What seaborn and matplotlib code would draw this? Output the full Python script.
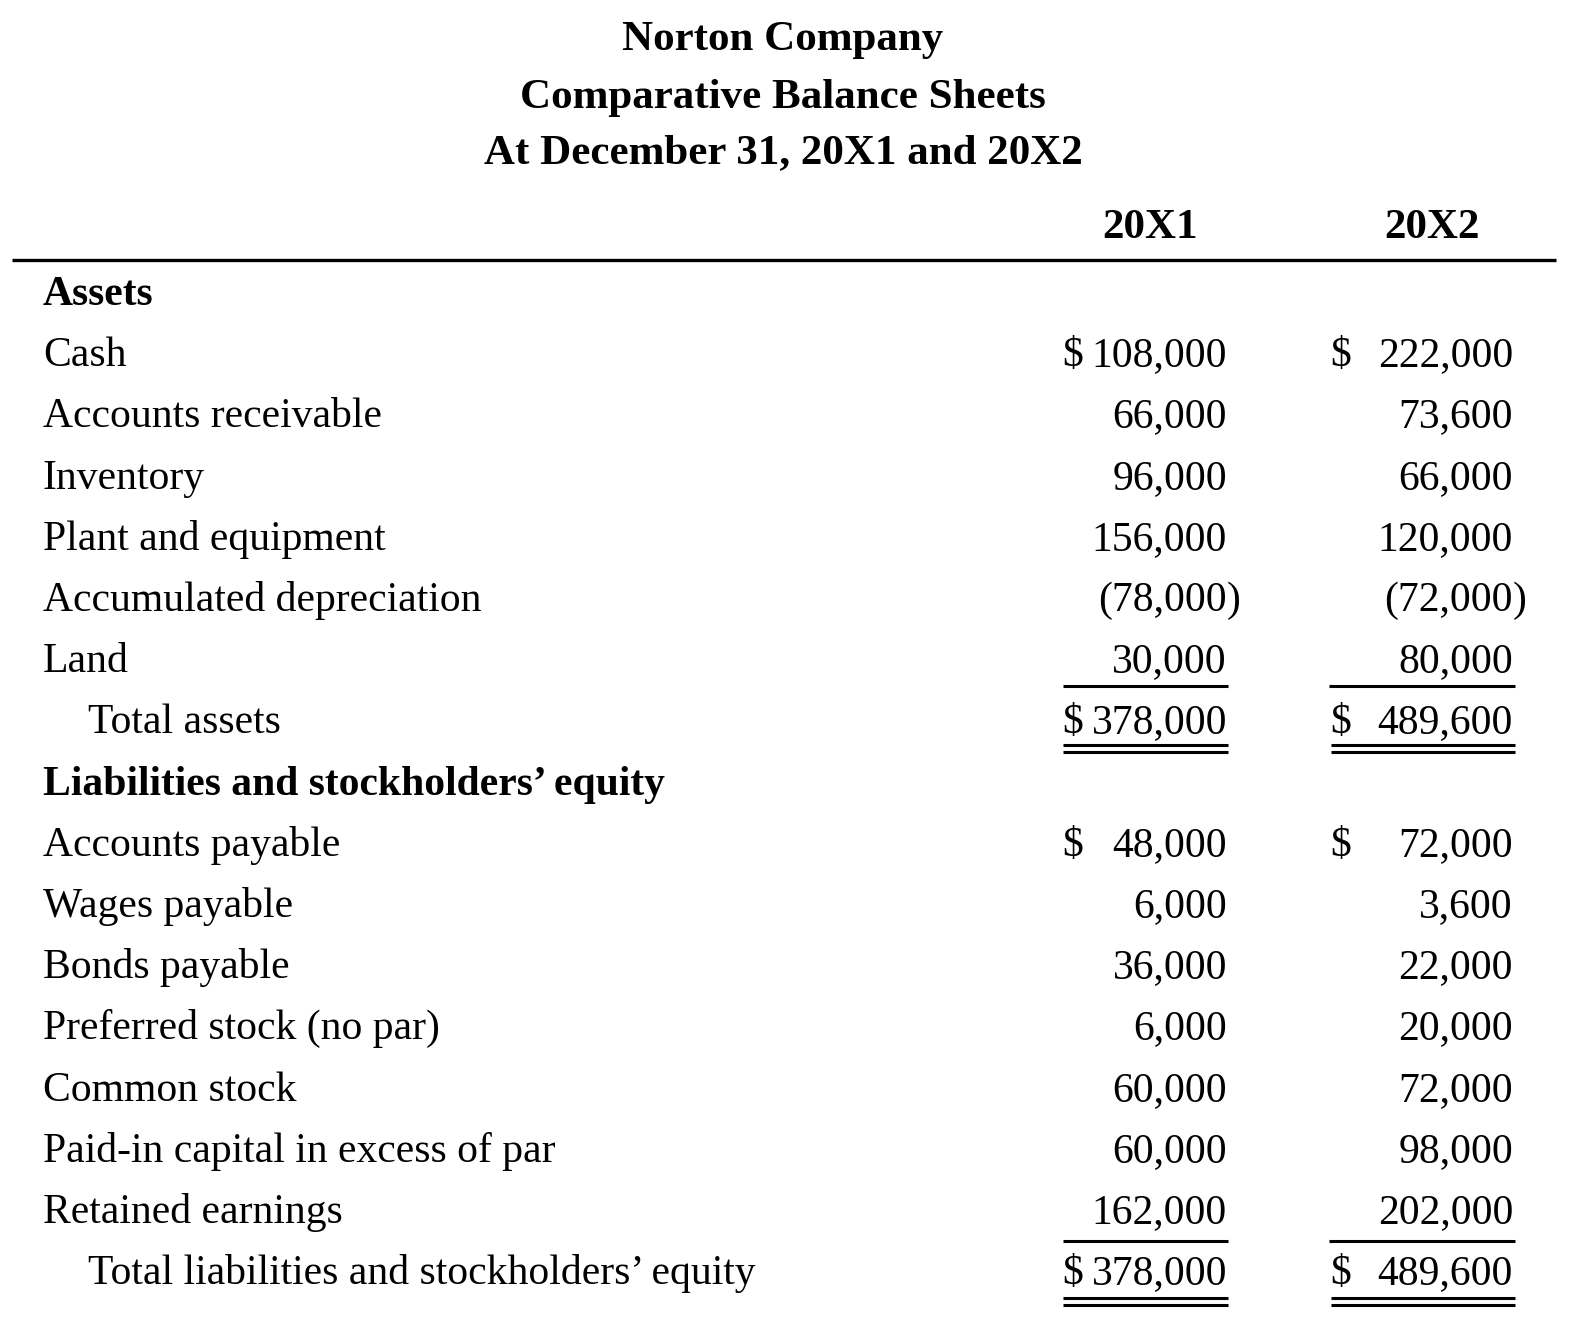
import matplotlib
matplotlib.use("Agg")
import matplotlib.pyplot as plt
import seaborn as sns

# 数据
title_lines = ["Norton Company", "Comparative Balance Sheets", "At December 31, 20X1 and 20X2"]
years = ["20X1", "20X2"]

asset_labels = ["Cash", "Accounts receivable", "Inventory", "Plant and equipment",
                "Accumulated depreciation", "Land"]
assets_20x1 = [108000, 66000, 96000, 156000, -78000, 30000]
assets_20x2 = [222000, 73600, 66000, 120000, -72000, 80000]

liab_labels = ["Accounts payable", "Wages payable", "Bonds payable", "Preferred stock (no par)",
               "Common stock", "Paid-in capital in excess of par", "Retained earnings"]
liab_20x1 = [48000, 6000, 36000, 6000, 60000, 60000, 162000]
liab_20x2 = [72000, 3600, 22000, 20000, 72000, 98000, 202000]

total_labels = ["Total assets", "Total liabilities and stockholders\u2019 equity"]
section_labels = ["Assets", "Liabilities and stockholders\u2019 equity"]

sns.set_theme(style="white")
plt.rcParams['font.family'] = ['Liberation Serif', 'DejaVu Serif']
plt.rcParams['text.color'] = 'black'

W, H = 1572, 1334
fig = plt.figure(figsize=(W / 100, H / 100), dpi=100)
ax = fig.add_axes([0, 0, 1, 1])
ax.set_xlim(0, W)
ax.set_ylim(H, 0)
ax.axis("off")

FS = 30
TFS = 31
dollar_x = [1062, 1330]
right_x = [1227, 1513]
col_center = [1150, 1432]


def put_num(v, col, y, dollar=False):
    s = "{:,}".format(abs(v))
    if v < 0:
        ax.text(right_x[col], y, "(" + s, ha="right", va="baseline", fontsize=FS)
        ax.text(right_x[col], y, ")", ha="left", va="baseline", fontsize=FS)
    else:
        ax.text(right_x[col], y, s, ha="right", va="baseline", fontsize=FS)
    if dollar:
        ax.text(dollar_x[col], y, "$", ha="left", va="baseline", fontsize=FS)


def single_line(y):
    ax.plot([1063, 1228], [y, y], color="black", lw=2.2, solid_capstyle="butt")
    ax.plot([1329, 1515], [y, y], color="black", lw=2.2, solid_capstyle="butt")


def double_line(y):
    for yy in (y, y + 6.5):
        ax.plot([1063, 1228], [yy, yy], color="black", lw=2.2, solid_capstyle="butt")
        ax.plot([1331, 1515], [yy, yy], color="black", lw=2.2, solid_capstyle="butt")


# 标题
for t, y in zip(title_lines, [50, 108, 163]):
    ax.text(783, y, t, ha="center", va="baseline", fontsize=TFS, fontweight="bold")

for yr, cx in zip(years, col_center):
    ax.text(cx, 238, yr, ha="center", va="baseline", fontsize=TFS, fontweight="bold")

ax.plot([12, 1556], [260, 260], color="black", lw=2.4, solid_capstyle="butt")

step = 61.2
y0 = 305
lx = 43

# 资产部分
row = 0
ax.text(lx, y0 + row * step, section_labels[0], ha="left", va="baseline", fontsize=FS, fontweight="bold")
row += 1
for i, lab in enumerate(asset_labels):
    y = y0 + row * step
    ax.text(lx, y, lab, ha="left", va="baseline", fontsize=FS)
    put_num(assets_20x1[i], 0, y, dollar=(i == 0))
    put_num(assets_20x2[i], 1, y, dollar=(i == 0))
    row += 1
y = y0 + row * step
single_line(y - 47)
ax.text(88, y, total_labels[0], ha="left", va="baseline", fontsize=FS)
put_num(sum(assets_20x1), 0, y, dollar=True)
put_num(sum(assets_20x2), 1, y, dollar=True)
double_line(y + 12)
row += 1

# 负债和股东权益
ax.text(lx, y0 + row * step, section_labels[1], ha="left", va="baseline", fontsize=FS, fontweight="bold")
row += 1
for i, lab in enumerate(liab_labels):
    y = y0 + row * step
    ax.text(lx, y, lab, ha="left", va="baseline", fontsize=FS)
    put_num(liab_20x1[i], 0, y, dollar=(i == 0))
    put_num(liab_20x2[i], 1, y, dollar=(i == 0))
    row += 1
y = y0 + row * step
single_line(y - 43)
ax.text(88, y, total_labels[1], ha="left", va="baseline", fontsize=FS)
put_num(sum(liab_20x1), 0, y, dollar=True)
put_num(sum(liab_20x2), 1, y, dollar=True)
double_line(y + 14)

fig.savefig("out.png", dpi=100, facecolor="white")
